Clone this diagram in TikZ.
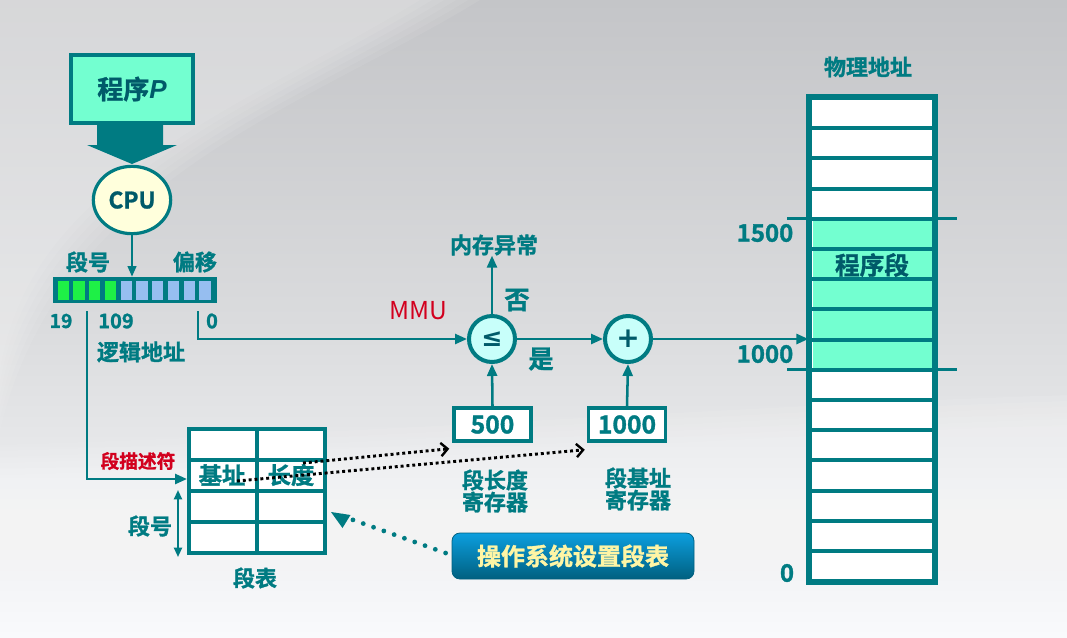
\documentclass[tikz,border=0pt]{standalone}
\usepackage{fontspec}
\IfFontExistsTF{Noto Sans CJK SC Bold}
  {\setmainfont{Noto Sans CJK SC}[BoldFont={Noto Sans CJK SC Bold}, BoldFeatures={FakeBold=1.3}]}
  {\setmainfont{Noto Sans CJK SC}[BoldFeatures={FakeBold=1.3}]}
\newfontfamily\latinbi{Liberation Sans}
\newfontfamily\symfont{DejaVu Sans}
\usetikzlibrary{arrows.meta,shapes.geometric,calc}
\definecolor{teal}{RGB}{0,123,130}
\definecolor{darkteal}{RGB}{0,90,105}
\definecolor{aqua}{RGB}{115,255,208}
\definecolor{cpuyel}{RGB}{255,255,220}
\definecolor{cirfill}{RGB}{200,255,250}
\definecolor{segred}{RGB}{210,0,30}
\definecolor{btntop}{RGB}{12,158,222}
\definecolor{btnbot}{RGB}{0,96,128}
\definecolor{btntext}{RGB}{255,245,165}
\definecolor{cellgreen}{RGB}{30,240,70}
\definecolor{cellblue}{RGB}{150,190,240}
\definecolor{bgtop}{RGB}{196,197,200}
\definecolor{bgmid}{RGB}{218,219,221}
\definecolor{bgbot}{RGB}{249,250,252}
\tikzset{
  x=0.75pt, y=-0.75pt,
  arr/.style={draw=teal, line width=1.9pt, -{Triangle[length=9pt,width=7.5pt]}},
  lbl/.style={text=teal, font=\bfseries\fontsize{16.5}{17}\selectfont, inner sep=0pt},
  num/.style={text=teal, font=\bfseries\fontsize{15}{16}\selectfont, inner sep=0pt},
  bignum/.style={text=teal, font=\bfseries\fontsize{18}{19}\selectfont, inner sep=0pt},
  regbox/.style={draw=teal, line width=2.6pt, fill=white, minimum width=57.75pt, minimum height=24.75pt, inner sep=0pt, text=teal, font=\bfseries\fontsize{18.5}{19}\selectfont},
  opcircle/.style={circle, draw=teal, line width=3pt, fill=cirfill, minimum size=34.5pt, inner sep=0pt, text=darkteal},
  blackdots/.style={draw=black, line width=2.2pt, dash pattern=on 2.2pt off 2.2pt, -{Straight Barb[length=5pt,width=10pt,line width=1.8pt]}},
}
\begin{document}
\begin{tikzpicture}
\useasboundingbox (0,0) rectangle (1067,637);
% background
\shade[top color=bgtop, bottom color=bgbot, middle color=bgmid] (0,0) rectangle (1067,637);
\foreach \d in {0,12,...,60}{
  \fill[white, opacity=0.07] (0,0) -- (480-\d,0) .. controls (300-\d,110) and (60-\d/2,180) .. (0,430-\d) -- cycle;
  \fill[white, opacity=0.08] (0,445+\d/2) .. controls (350,435+\d/2) and (750,405+\d/2) .. (1067,395+\d/2) -- (1067,637) -- (0,637) -- cycle;
}

% program P
\node[draw=teal, line width=3pt, fill=aqua, minimum width=91.5pt, minimum height=51pt, inner sep=0pt,
      text=darkteal, font=\bfseries\fontsize{19.5}{20}\selectfont] (prog) at (132,89) {程序{\latinbi\bfseries\itshape P}};
\fill[teal] ($(prog.south)+(-35,0)$) -- ($(prog.south)+(31,0)$) -- ($(prog.south)+(31,20)$) -- ($(prog.south)+(45,20)$)
  -- ($(prog.south)+(0,39)$) -- ($(prog.south)+(-45,20)$) -- ($(prog.south)+(-35,20)$) -- cycle;

% CPU
\node[ellipse, draw=teal, line width=2.4pt, fill=cpuyel, minimum width=58pt, minimum height=50.5pt, inner sep=0pt,
      text=darkteal, font=\bfseries\fontsize{17}{17}\selectfont] (cpu) at (132,200) {CPU};

% register
\node[fill=teal, minimum width=123pt, minimum height=19.5pt, inner sep=0pt] (reg) at (135,290) {};
\foreach \i in {0,...,9}{
  \pgfmathsetmacro{\xl}{57.6+\i*15.75}
  \ifnum\i<4 \def\cc{cellgreen}\else\def\cc{cellblue}\fi
  \fill[\cc] (\xl,281) rectangle ++(11.2,18.5);
}
\draw[draw=teal, line width=1.6pt, -{Triangle[length=8pt,width=6.5pt]}] (cpu.south) -- (cpu.south |- reg.north);
\node[lbl] (seglbl) at (88,262) {段号};
\node[lbl] (offlbl) at (195,262) {偏移};
\node[num, font=\bfseries\fontsize{14.5}{15}\selectfont] (n19) at (61,321) {19};
\node[num] (n109) at (116,321) {109};
\node[num] (n0) at (212,321) {0};
\node[lbl] (logaddr) at (141,352) {逻辑地址};
\coordinate (segsplit) at (87,311);
\coordinate (offsplit) at (198,311);

% MMU part
\node[text=segred, font=\fontsize{18.5}{18}\selectfont, inner sep=0pt] (mmu) at (418,311) {MMU};
\node[opcircle, font=\symfont\bfseries\fontsize{19}{19}\selectfont] (le) at (492,339) {≤};
\node[opcircle, font=\symfont\bfseries\fontsize{21}{21}\selectfont] (add) at (628,339) {+};
\node[lbl] (exc) at (494,245) {内存异常};
\node[text=teal, font=\bfseries\fontsize{19}{19}\selectfont, inner sep=0pt] (no) at (517,300) {否};
\node[text=teal, font=\bfseries\fontsize{19}{19}\selectfont, inner sep=0pt] (yes) at (541,359) {是};
\node[regbox] (b500) at (492.5,424.5) {500};
\node[regbox] (b1000) at (627,424.5) {1000};
\node[lbl, align=center, font=\bfseries\fontsize{16.5}{16.5}\selectfont] (lenreg) at (495,491) {段长度\\寄存器};
\node[lbl, align=center, font=\bfseries\fontsize{16.5}{16.5}\selectfont] (basereg) at (638,489) {段基址\\寄存器};

\draw[arr] (offsplit) |- (le.west);
\draw[arr] (le.north) -- (le.north |- exc.south);
\draw[arr] (le.east) -- (add.west);
\draw[arr] (b500.north) -- (le.south);
\draw[arr] (b1000.north) -- (add.south);

% segment table
\node[draw=teal, line width=2.8pt, fill=white, minimum width=102pt, minimum height=93pt, inner sep=0pt] (tbl) at (257,491) {};
\draw[teal, line width=2.8pt] (tbl.north) -- (tbl.south);
\foreach \k in {1,2,3}{ \draw[teal, line width=2.8pt] (189,429+\k*31) -- (325,429+\k*31); }
\node[text=teal, font=\bfseries\fontsize{17.5}{18}\selectfont, inner sep=0pt] (base) at (222,475) {基址};
\node[text=teal, font=\bfseries\fontsize{17.5}{18}\selectfont, inner sep=0pt] (len) at (291,475) {长度};
\node[text=segred, font=\bfseries\fontsize{14}{14}\selectfont, inner sep=0pt] (desc) at (138,461) {段描述符};
\node[lbl] (seglbl2) at (150,526) {段号};
\node[lbl] (tbllbl) at (255,578) {段表};
\coordinate (descin) at (187,479);
\draw[arr] (segsplit) |- (descin);
\coordinate (rngtop) at (178,490);
\coordinate (rngbot) at (178,557);
\draw[teal, line width=1.5pt, {Triangle[length=7pt,width=6pt]}-{Triangle[length=7pt,width=6pt]}] (rngtop) -- (rngbot);

% dotted black arrows
\draw[blackdots] ([shift={(12,-12)}]len.center) -- ([shift={(-3,6)}]b500.south west);
\draw[blackdots] ([shift={(15,6)}]base.center) -- ([shift={(-2,7)}]b1000.south west);

% OS button
\node[rounded corners=6pt, draw=btnbot, line width=0.6pt, top color=btntop, bottom color=btnbot,
      minimum width=181.5pt, minimum height=34.5pt, inner sep=0pt,
      text=btntext, font=\bfseries\fontsize{18}{18}\selectfont] (os) at (573,556) {操作系统设置段表};
\coordinate (tblos) at (331,512);
\draw[teal, line width=3.6pt, line cap=round, dash pattern=on 0pt off 8.2pt, shorten >=9pt] ([shift={(-6,-3)}]os.west) -- (tblos);
\fill[teal] (tblos) -- ++(19.5,3) -- ++(-8,13) -- cycle;

% physical memory
\node[draw=teal, line width=3pt, fill=white, minimum width=92.4pt, minimum height=362.25pt, inner sep=0pt] (mem) at (872,339.5) {};
\fill[aqua] (812.5,218.8) rectangle (931.7,369.8);
\foreach \k in {1,...,15}{ \draw[teal, line width=3pt] (810.5,98+\k*30.2) -- (933.7,98+\k*30.2); }
\draw[teal, line width=3pt] (mem.north west) rectangle (mem.south east);
\draw[teal, line width=2.4pt] (787,218.8) -- (957,218.8);
\draw[teal, line width=2.4pt] (787,369.8) -- (957,369.8);
\node[lbl] (phys) at (868,67) {物理地址};
\node[text=darkteal, font=\bfseries\fontsize{18.5}{19}\selectfont, inner sep=0pt] (progseg) at (872,265) {程序段};
\node[bignum] (m1500) at (765,233) {1500};
\node[bignum] (m1000) at (765,354) {1000};
\node[bignum] (m0) at (787,573) {0};
\draw[arr] (add.east) -- (mem.west |- add.east);
\end{tikzpicture}
\end{document}
